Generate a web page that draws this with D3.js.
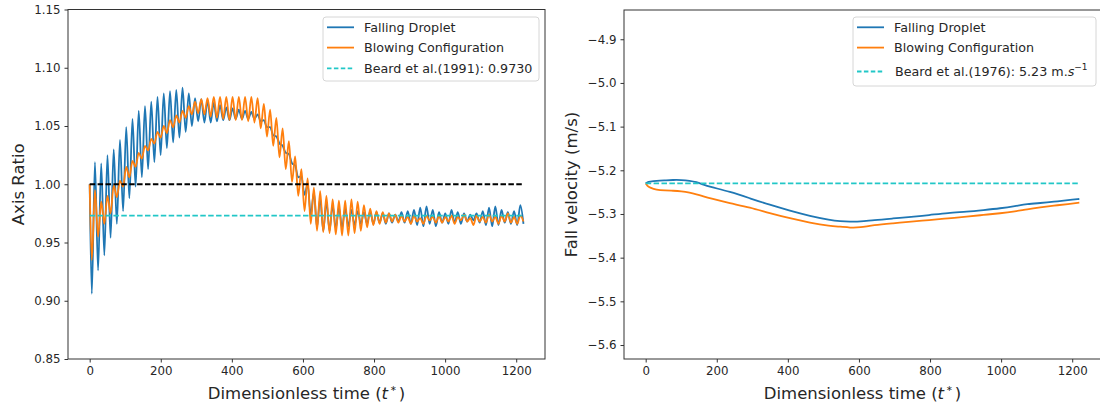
<!DOCTYPE html>
<html><head><meta charset="utf-8">
<script src="https://cdn.jsdelivr.net/npm/d3@7"></script>
<style>
body{margin:0;background:#fff}
text{font-family:"DejaVu Sans",sans-serif}
</style>
</head><body>
<svg id="c" width="1100" height="406"></svg>
<script>
// ---------- DATA ----------
// extremum times (peaks/troughs) of the axis-ratio oscillations
const tRatio = [
 0, 6, 14.8, 23.6, 32.4, 41.2, 50, 58.8, 67.6, 76.4,
 85.2, 94, 102.8, 111.6, 120.4, 129.2, 138, 146.8, 155.6, 164.4,
 173.2, 182, 190.8, 199.6, 208.4, 217.2, 226, 234.8, 243.6, 252.4,
 261.2, 270, 278.8, 287.6, 296.4, 305.2, 314, 322.8, 331.6, 340.4,
 349.2, 358, 366.8, 375.6, 384.4, 393.2, 402, 410.8, 419.6, 428.4,
 437.2, 446, 454.8, 463.6, 472.4, 481.2, 490, 498.8, 507.6, 516.4,
 525.2, 534, 542.8, 551.6, 560.4, 569.2, 578, 586.8, 595.6, 604.4,
 613.2, 622, 630.8, 639.6, 648.4, 657.2, 666, 674.8, 683.6, 692.4,
 701.2, 710, 718.8, 727.6, 736.4, 745.2, 754, 762.8, 771.6, 780.4,
 789.2, 798, 806.8, 815.6, 824.4, 833.2, 842, 850.8, 859.6, 868.4,
 877.2, 886, 894.8, 903.6, 912.4, 921.2, 930, 938.8, 947.6, 956.4,
 965.2, 974, 982.8, 991.6, 1000.4, 1009.2, 1018, 1026.8, 1035.6, 1044.4,
 1053.2, 1062, 1070.8, 1079.6, 1088.4, 1097.2, 1106, 1114.8, 1123.6, 1132.4,
 1141.2, 1150, 1158.8, 1167.6, 1176.4, 1185.2, 1194, 1202.8, 1211.6, 1220.4
];
const ratioFalling = [
 1.000, 0.906, 1.019, 0.926, 1.018, 0.939, 1.025, 0.954, 1.030, 0.966,
 1.038, 0.977, 1.049, 0.988, 1.056, 0.998, 1.063, 1.006, 1.067, 1.013,
 1.071, 1.019, 1.075, 1.025, 1.078, 1.031, 1.080, 1.036, 1.081, 1.040,
 1.083, 1.045, 1.078, 1.050, 1.074, 1.054, 1.073, 1.053, 1.072, 1.053,
 1.070, 1.054, 1.068, 1.055, 1.066, 1.055, 1.065, 1.056, 1.064, 1.056,
 1.063, 1.056, 1.062, 1.056, 1.060, 1.054, 1.055, 1.049, 1.049, 1.042,
 1.041, 1.035, 1.033, 1.027, 1.026, 1.018, 1.016, 1.006, 1.007, 0.991,
 1.000, 0.974, 0.993, 0.963, 0.988, 0.960, 0.985, 0.960, 0.982, 0.962,
 0.980, 0.963, 0.979, 0.964, 0.978, 0.965, 0.977, 0.966, 0.976, 0.966,
 0.977, 0.966, 0.976, 0.967, 0.975, 0.966, 0.975, 0.967, 0.974, 0.968,
 0.976, 0.967, 0.977, 0.966, 0.978, 0.965, 0.980, 0.964, 0.981, 0.966,
 0.978, 0.964, 0.976, 0.967, 0.975, 0.966, 0.978, 0.967, 0.976, 0.966,
 0.975, 0.968, 0.974, 0.969, 0.975, 0.967, 0.977, 0.965, 0.980, 0.964,
 0.981, 0.965, 0.978, 0.967, 0.976, 0.966, 0.977, 0.965, 0.982, 0.966
];
const ratioBlowing = [
 1.000, 0.935, 0.995, 0.955, 0.985, 0.966, 0.990, 0.975, 0.999, 0.989,
 1.003, 0.998, 1.015, 1.006, 1.020, 1.015, 1.027, 1.022, 1.033, 1.029,
 1.039, 1.035, 1.045, 1.040, 1.050, 1.044, 1.055, 1.049, 1.059, 1.053,
 1.063, 1.057, 1.067, 1.060, 1.071, 1.061, 1.073, 1.060, 1.074, 1.058,
 1.075, 1.057, 1.075, 1.056, 1.075, 1.055, 1.075, 1.055, 1.075, 1.055,
 1.075, 1.054, 1.075, 1.053, 1.074, 1.048, 1.069, 1.041, 1.064, 1.033,
 1.057, 1.023, 1.048, 1.013, 1.037, 1.002, 1.024, 0.990, 1.013, 0.977,
 1.005, 0.966, 0.997, 0.960, 0.994, 0.959, 0.990, 0.958, 0.987, 0.957,
 0.986, 0.956, 0.986, 0.956, 0.987, 0.958, 0.985, 0.960, 0.982, 0.963,
 0.979, 0.965, 0.977, 0.966, 0.976, 0.967, 0.975, 0.968, 0.974, 0.967,
 0.973, 0.968, 0.972, 0.966, 0.973, 0.968, 0.971, 0.966, 0.973, 0.969,
 0.972, 0.967, 0.973, 0.967, 0.972, 0.968, 0.973, 0.966, 0.972, 0.969,
 0.974, 0.968, 0.971, 0.965, 0.973, 0.968, 0.972, 0.967, 0.974, 0.968,
 0.972, 0.966, 0.973, 0.968, 0.975, 0.967, 0.972, 0.966, 0.973, 0.968
];
const ratioBeard = 0.973;
const ratioUnity = 1.0;
const refSpan = [0, 1220];

const tVel = [0, 5, 11, 30, 55, 77, 100, 124, 143, 160, 180, 237, 293, 349, 406, 462, 519, 547, 575, 603, 640, 700, 734, 800, 850, 904, 950, 998, 1040, 1073, 1110, 1148, 1190, 1220];
const velFalling = [-5.230, -5.227, -5.226, -5.224, -5.223, -5.222, -5.222, -5.224, -5.227, -5.232, -5.2375, -5.249, -5.264, -5.279, -5.2925, -5.3046, -5.3138, -5.3165, -5.3177, -5.3177, -5.314, -5.310, -5.3077, -5.3023, -5.2975, -5.2947, -5.291, -5.287, -5.282, -5.2772, -5.275, -5.272, -5.268, -5.2657];
const velBlowing = [-5.230, -5.236, -5.239, -5.245, -5.246, -5.2467, -5.248, -5.251, -5.255, -5.259, -5.264, -5.2755, -5.2848, -5.2985, -5.310, -5.320, -5.3275, -5.329, -5.3315, -5.3312, -5.3254, -5.321, -5.3184, -5.3138, -5.310, -5.3062, -5.302, -5.2985, -5.294, -5.2893, -5.285, -5.281, -5.277, -5.2742];
const velBeard = -5.23;

const xTicks = [0, 200, 400, 600, 800, 1000, 1200];
const ratioTicks = [0.85, 0.90, 0.95, 1.00, 1.05, 1.10, 1.15];
const velTicks = [-5.6, -5.5, -5.4, -5.3, -5.2, -5.1, -5.0, -4.9];
const seriesNames = ["Falling Droplet", "Blowing Configuration"];
const beardRatioLabel = "Beard et al.(1991): 0.9730";
const beardVelLabel = "Beard et al.(1976): 5.23 m.";
const xLabel = "Dimensionless time (";
const ratioYLabel = "Axis Ratio";
const velYLabel = "Fall velocity (m/s)";

// ---------- STYLE ----------
const C_BLUE = "#1f77b4", C_ORANGE = "#ff7f0e", C_CYAN = "#22c7c7", C_BLACK = "#000";
const svg = d3.select("#c");
const TXT = "#262626";

function panel(cfg) {
  const g = svg.append("g");
  const x = d3.scaleLinear().domain([-61, 1281]).range([cfg.x0, cfg.x1]);
  const y = d3.scaleLinear().domain(cfg.ydom).range([cfg.y1, cfg.y0]);
  const xa = g.append("g").attr("transform", `translate(0,${cfg.y1})`)
    .call(d3.axisBottom(x).tickValues(xTicks).tickSize(3.5).tickPadding(4).tickFormat(d3.format("d")));
  const ya = g.append("g").attr("transform", `translate(${cfg.x0},0)`)
    .call(d3.axisLeft(y).tickValues(cfg.yticks).tickSize(3.5).tickPadding(4).tickFormat(d3.format(cfg.yfmt)));
  [xa, ya].forEach(a => {
    a.select(".domain").remove();
    a.selectAll("line").attr("stroke", "#333");
    a.selectAll("text").attr("fill", TXT).style("font-size", "11.8px").style("font-family", "DejaVu Sans");
  });
  const cid = "clip" + cfg.id;
  g.append("clipPath").attr("id", cid).append("rect")
    .attr("x", cfg.x0).attr("y", cfg.y0).attr("width", cfg.x1 - cfg.x0).attr("height", cfg.y1 - cfg.y0);
  const plot = g.append("g").attr("clip-path", `url(#${cid})`);
  g.append("rect").attr("x", cfg.x0).attr("y", cfg.y0).attr("width", cfg.x1 - cfg.x0).attr("height", cfg.y1 - cfg.y0)
    .attr("fill", "none").attr("stroke", "#333").attr("stroke-width", 1);
  const xl = g.append("text").attr("x", (cfg.x0 + cfg.x1) / 2).attr("y", 399).attr("text-anchor", "middle")
    .attr("fill", TXT).style("font-size", "16.5px");
  xl.append("tspan").text(xLabel);
  xl.append("tspan").attr("font-style", "italic").text("t");
  xl.append("tspan").attr("dx", 2).attr("dy", -8).style("font-size", "8px").text("∗");
  xl.append("tspan").attr("dx", 2).attr("dy", 8).text(")");
  g.append("text").attr("transform", `translate(${cfg.ylabX},${(cfg.y0 + cfg.y1) / 2}) rotate(-90)`)
    .attr("text-anchor", "middle").attr("fill", TXT).style("font-size", "16.5px").text(cfg.ylabel);
  return {g, plot, x, y};
}

// ---------- LEFT PANEL ----------
const L = panel({id: "L", x0: 68, x1: 545, y0: 9.5, y1: 359, ydom: [0.85, 1.15], yticks: ratioTicks, yfmt: ".2f", ylabel: ratioYLabel, ylabX: 24});
const lineL = d3.line().x(d => L.x(d[0])).y(d => L.y(d[1])).curve(d3.curveMonotoneX);
L.plot.append("path").datum(d3.zip(tRatio, ratioFalling)).attr("d", lineL)
  .attr("fill", "none").attr("stroke", C_BLUE).attr("stroke-width", 1.8);
L.plot.append("path").datum(d3.zip(tRatio, ratioBlowing)).attr("d", lineL)
  .attr("fill", "none").attr("stroke", C_ORANGE).attr("stroke-width", 1.8);
L.plot.append("line").attr("x1", L.x(refSpan[0])).attr("x2", L.x(refSpan[1]))
  .attr("y1", L.y(ratioUnity)).attr("y2", L.y(ratioUnity))
  .attr("stroke", C_BLACK).attr("stroke-width", 1.8).attr("stroke-dasharray", "5.5,2.4");
L.plot.append("line").attr("x1", L.x(refSpan[0])).attr("x2", L.x(refSpan[1]))
  .attr("y1", L.y(ratioBeard)).attr("y2", L.y(ratioBeard))
  .attr("stroke", C_CYAN).attr("stroke-width", 1.8).attr("stroke-dasharray", "5.5,2.4");

// ---------- RIGHT PANEL ----------
const R = panel({id: "R", x0: 624, x1: 1101, y0: 10, y1: 359, ydom: [-5.632, -4.833], yticks: velTicks, yfmt: ".1f", ylabel: velYLabel, ylabX: 577});
const lineR = d3.line().x(d => R.x(d[0])).y(d => R.y(d[1])).curve(d3.curveBasis);
R.plot.append("path").datum(d3.zip(tVel, velFalling)).attr("d", lineR)
  .attr("fill", "none").attr("stroke", C_BLUE).attr("stroke-width", 1.8);
R.plot.append("path").datum(d3.zip(tVel, velBlowing)).attr("d", lineR)
  .attr("fill", "none").attr("stroke", C_ORANGE).attr("stroke-width", 1.8);
R.plot.append("line").attr("x1", R.x(refSpan[0])).attr("x2", R.x(refSpan[1]))
  .attr("y1", R.y(velBeard)).attr("y2", R.y(velBeard))
  .attr("stroke", C_CYAN).attr("stroke-width", 1.8).attr("stroke-dasharray", "5.5,2.4");

// ---------- LEGENDS ----------
function legend(x0, y0, w, h, rows) {
  const g = svg.append("g");
  g.append("rect").attr("x", x0).attr("y", y0).attr("width", w).attr("height", h).attr("rx", 3)
    .attr("fill", "#fff").attr("fill-opacity", 0.8).attr("stroke", "#d6d6d6").attr("stroke-width", 1);
  rows.forEach(r => {
    g.append("line").attr("x1", x0 + 4).attr("x2", x0 + 31).attr("y1", r.cy).attr("y2", r.cy)
      .attr("stroke", r.color).attr("stroke-width", 1.8).attr("stroke-dasharray", r.dash || null);
    const t = g.append("text").attr("x", x0 + 41).attr("y", r.cy + 4.6).attr("fill", TXT).style("font-size", "12.7px");
    r.build(t);
  });
}
legend(323, 17, 216, 64, [
  {cy: 27.3, color: C_BLUE, build: t => t.text(seriesNames[0])},
  {cy: 47.6, color: C_ORANGE, build: t => t.text(seriesNames[1])},
  {cy: 68.3, color: C_CYAN, dash: "4.5,2.4", build: t => t.text(beardRatioLabel)}
]);
legend(853, 17, 243, 69, [
  {cy: 27.3, color: C_BLUE, build: t => t.text(seriesNames[0])},
  {cy: 47.6, color: C_ORANGE, build: t => t.text(seriesNames[1])},
  {cy: 71.5, color: C_CYAN, dash: "4.5,2.4", build: t => {
    t.attr("x", 853 + 42);
    t.append("tspan").text(beardVelLabel);
    t.append("tspan").attr("font-style", "italic").text("s");
    t.append("tspan").attr("dy", -6).style("font-size", "9px").text("−1");
  }}
]);
</script>
</body></html>
